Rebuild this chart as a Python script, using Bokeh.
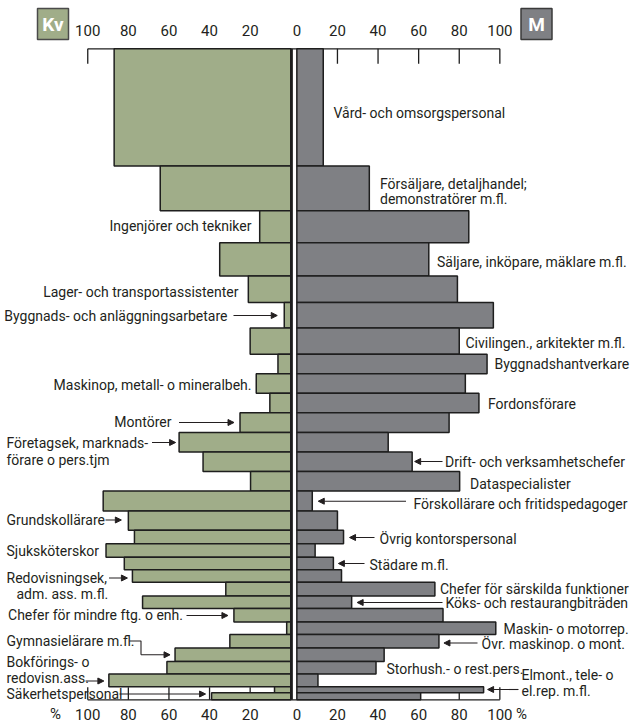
import numpy as np
from bokeh.plotting import figure
from bokeh.models import Range1d, Arrow, NormalHead
from bokeh.core.properties import value
from bokeh.embed import file_html
from bokeh.resources import INLINE

# ---------------- data ----------------
OCCUPATIONS = [
    "Vård- och omsorgspersonal", "Försäljare, detaljhandel; demonstratörer m.fl.",
    "Ingenjörer och tekniker", "Säljare, inköpare, mäklare m.fl.",
    "Lager- och transportassistenter", "Byggnads- och anläggningsarbetare",
    "Civilingen., arkitekter m.fl.", "Byggnadshantverkare",
    "Maskinop, metall- o mineralbeh.", "Fordonsförare", "Montörer",
    "Företagsek, marknadsförare o pers.tjm", "Drift- och verksamhetschefer",
    "Dataspecialister", "Förskollärare och fritidspedagoger", "Grundskollärare",
    "Övrig kontorspersonal", "Sjuksköterskor", "Städare m.fl.",
    "Redovisningsek, adm. ass. m.fl.", "Chefer för särskilda funktioner",
    "Köks- och restaurangbiträden", "Chefer för mindre ftg. o enh.",
    "Maskin- o motorrep.", "Övr. maskinop. o mont.", "Gymnasielärare m.fl.",
    "Storhush.- o rest.pers.", "Bokförings- o redovisn.ass.",
    "Elmont., tele- o el.rep. m.fl.", "Säkerhetspersonal",
]
# share of women / men, per cent
WOMEN = [87, 64.3, 15.3, 35, 20.9, 3.2, 20, 6.3, 17, 10.3, 25, 55, 43.2, 19.8, 92.4,
         80, 77, 91, 82, 78, 32, 73, 28, 2, 30, 57, 61, 89.6, 8, 39]
MEN = [13, 35.7, 84.7, 65, 79.1, 96.8, 80, 93.7, 83, 89.7, 75, 45, 56.8, 80.2, 7.6,
       20, 23, 9, 18, 22, 68, 27, 72, 98, 70, 43, 39, 10.4, 92, 61]
# number employed (thousands) -> bar thickness
EMPLOYED = [235, 90, 64, 67, 53, 51, 53, 39, 39, 39, 40, 39, 39, 39, 40, 39,
            27, 27, 25, 25, 28, 25, 27, 25, 27, 27, 25, 26, 12, 14]
TICKS = [100, 80, 60, 40, 20]

# ---------------- layout / style ----------------
FONT = "Roboto"
GREEN = "#a0ad89"
GREY = "#7f8084"
EDGE = "#1e1e1e"
TXT = "#231f20"
G = 1.5                      # half gap between the two halves (percent units)
SX = 2.03                    # px per percent
CX = 293.3                   # page x of centre
TOP_PX, BOT_PX = 48.3, 699.3  # page y of bar block
W, H = 630, 724

total = float(sum(EMPLOYED))
SY = (BOT_PX - TOP_PX) / total


def xd(px):
    return (px - CX) / SX


def yd(py):
    return (py - TOP_PX) / SY


p = figure(width=W, height=H,
           x_range=Range1d(xd(0), xd(W)),
           y_range=Range1d(yd(H), yd(0)),
           output_backend="svg", toolbar_location=None,
           x_axis_type=None, y_axis_type=None,
           min_border=0, outline_line_color=None,
           background_fill_color="white", border_fill_color="white")

emp = np.array(EMPLOYED, float)
bottoms = np.cumsum(emp)
tops = bottoms - emp
women = np.array(WOMEN, float)
men = np.array(MEN, float)

# ---------------- axes (drawn under bars) ----------------
tick_len_top = 15 / SY
tick_len_bot = 12.6 / SY
tx = [-(G + t) for t in TICKS] + [G + t for t in TICKS[::-1]]
p.segment(x0=[-(G + 100)], y0=[0], x1=[G + 100], y1=[0], line_color=EDGE, line_width=1.3)
p.segment(x0=[-(G + 100)], y0=[total], x1=[G + 100], y1=[total], line_color=EDGE, line_width=1.3)
p.segment(x0=tx, y0=[0] * len(tx), x1=tx, y1=[tick_len_top] * len(tx), line_color=EDGE, line_width=1.3)
p.segment(x0=tx, y0=[total] * len(tx), x1=tx, y1=[total - tick_len_bot] * len(tx),
          line_color=EDGE, line_width=1.3)

TFS = "15px"
lab_x = [-(G + t) for t in TICKS] + [G] + [G + t for t in TICKS[::-1]]
lab_t = [str(t) for t in TICKS] + ["0"] + [str(t) for t in TICKS[::-1]]
p.text(x=lab_x, y=[yd(30)] * len(lab_x), text=lab_t, text_font=value(FONT),
       text_font_size=TFS, text_align="center", text_baseline="middle", text_color=TXT)
p.text(x=lab_x, y=[yd(713.5)] * len(lab_x), text=lab_t, text_font=value(FONT),
       text_font_size=TFS, text_align="center", text_baseline="middle", text_color=TXT)
p.text(x=[xd(55), xd(521)], y=[yd(713.5)] * 2, text=["%", "%"], text_font=value(FONT),
       text_font_size=TFS, text_align="center", text_baseline="middle", text_color=TXT)

# ---------------- bars ----------------
p.quad(left=-(G + women), right=np.full(len(women), -G), top=tops, bottom=bottoms,
       fill_color=GREEN, line_color=EDGE, line_width=1.5)
p.quad(left=np.full(len(men), G), right=G + men, top=tops, bottom=bottoms,
       fill_color=GREY, line_color=EDGE, line_width=1.5)
p.segment(x0=[-G + 0.45], y0=[0], x1=[-G + 0.45], y1=[total], line_color=EDGE, line_width=2.4)

# ---------------- Kv / M boxes ----------------
p.rect(x=[xd(52.5)], y=[yd(23.5)], width=31, height=31, width_units="screen",
       height_units="screen", fill_color=GREEN, line_color="#4a4a4a", line_width=1.5)
p.rect(x=[xd(536)], y=[yd(23.5)], width=31, height=31, width_units="screen",
       height_units="screen", fill_color=GREY, line_color="#3a3a3a", line_width=1.5)
p.text(x=[xd(52.5), xd(536)], y=[yd(24)] * 2, text=["Kv", "M"], text_font=value(FONT),
       text_font_style="bold", text_font_size="19px", text_align="center",
       text_baseline="middle", text_color="white")

# ---------------- category labels ----------------
RIGHT_LABELS = [
    ("Vård- och omsorgspersonal", 333, 112),
    ("Försäljare, detaljhandel;", 379.5, 183),
    ("demonstratörer m.fl.", 379.5, 198.5),
    ("Säljare, inköpare, mäklare m.fl.", 436.5, 261),
    ("Civilingen., arkitekter m.fl.", 465, 342),
    ("Byggnadshantverkare", 494, 363.5),
    ("Fordonsförare", 487.5, 403.5),
    ("Drift- och verksamhetschefer", 444.5, 461),
    ("Dataspecialister", 469.5, 483.5),
    ("Förskollärare och fritidspedagoger", 413, 503),
    ("Övrig kontorspersonal", 379, 538),
    ("Städare m.fl.", 369, 564),
    ("Chefer för särskilda funktioner", 439.5, 588.5),
    ("Köks- och restaurangbiträden", 445, 602),
    ("Maskin- o motorrep.", 503, 628),
    ("Övr. maskinop. o mont.", 481, 643),
    ("Storhush.- o rest.pers.", 386, 668.5),
    ("Elmont., tele- o", 521, 674.5),
    ("el.rep. m.fl.", 521, 690.5),
    ("Företagsek, marknads-", 6, 442.5),
    ("förare o pers.tjm", 6, 459),
    ("Grundskollärare", 6, 519),
    ("Sjuksköterskor", 6, 550),
    ("Redovisningsek,", 6, 577),
    ("adm. ass. m.fl.", 16, 593.5),
    ("Gymnasielärare m.fl.", 6, 640.5),
    ("Bokförings- o", 6, 661.5),
    ("redovisn.ass.", 6, 677.5),
    ("Säkerhetspersonal", 6, 693.5),
]
LEFT_LABELS = [
    ("Ingenjörer och tekniker", 251, 225.5),
    ("Lager- och transportassistenter", 238, 291),
    ("Byggnads- och anläggningsarbetare", 227, 315),
    ("Maskinop, metall- o mineralbeh.", 251, 384.5),
    ("Montörer", 171, 421.5),
    ("Chefer för mindre ftg. o enh.", 182.5, 614.5),
]
FS = "14px"
p.text(x=[xd(a[1]) for a in RIGHT_LABELS], y=[yd(a[2]) for a in RIGHT_LABELS],
       text=[a[0] for a in RIGHT_LABELS], text_font=value(FONT), text_font_size=FS,
       text_align="left", text_baseline="middle", text_color=TXT)
p.text(x=[xd(a[1]) for a in LEFT_LABELS], y=[yd(a[2]) for a in LEFT_LABELS],
       text=[a[0] for a in LEFT_LABELS], text_font=value(FONT), text_font_size=FS,
       text_align="right", text_baseline="middle", text_color=TXT)

# ---------------- leader arrows: (row, side, tail page-x, page-y, gap px) ----------------
ARROWS = [
    (5, "L", 233, 315, 7), (10, "L", 178.5, 422, 6), (11, "L", 151.5, 442, 3.5),
    (12, "R", 442, 461, 2.5), (14, "R", 405.5, 500.7, 6), (15, "L", 105, 519.5, 7),
    (16, "R", 374, 537, 6), (18, "R", 364, 563, 5), (19, "L", 108.5, 577.5, 5),
    (21, "R", 442, 602, 5.5), (22, "L", 186, 615, 6), (24, "R", 477, 642.5, 5),
    (25, "L", 140.5, 654.3, 5), (27, "L", 85, 680.5, 5), (28, "R", 518, 689, 4),
    (29, "L", 119, 693.5, 6),
]
for row, side, tail, py, gap in ARROWS:
    if side == "L":
        tip = -(G + women[row]) - gap / SX
    else:
        tip = G + men[row] + gap / SX
    p.add_layout(Arrow(end=NormalHead(size=6, fill_color=TXT, line_color=TXT, line_width=1),
                       x_start=xd(tail), y_start=yd(py), x_end=tip, y_end=yd(py),
                       line_color=TXT, line_width=1.1))
# elbow of the Gymnasielärare leader
p.line(x=[xd(129), xd(140.5), xd(140.5)], y=[yd(640.5), yd(640.5), yd(654.3)],
       line_color=TXT, line_width=1.1)

open("out.html", "w").write(file_html(p, INLINE, title="Kvinnor och män i yrken"))
